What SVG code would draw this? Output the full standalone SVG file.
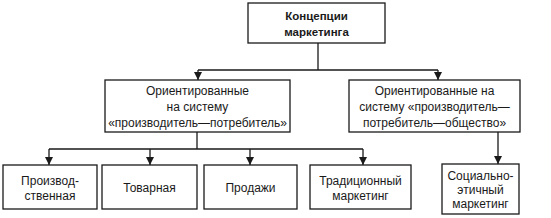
<svg xmlns="http://www.w3.org/2000/svg" width="551" height="218" viewBox="0 0 551 218">
<style>
.box{fill:#fff;stroke:#1a1a1a;stroke-width:1.3}
.ln{fill:none;stroke:#1a1a1a;stroke-width:1.3}
text{font-family:"Liberation Sans",Arial,sans-serif;font-size:12px;fill:#1a1a1a;text-anchor:middle}
.b{font-weight:bold;font-size:11.5px}
</style>
<defs>
<marker id="ar" viewBox="0 0 8 12" refX="8" refY="4" markerWidth="8" markerHeight="12" markerUnits="userSpaceOnUse" orient="auto">
<path d="M0,0 L12,4 L0,8 Z" fill="#1a1a1a" transform="scale(0.67,1)"/>
</marker>
</defs>
<g id="connectors">
<path class="ln" d="M318,43 V70 M198,70 H438"/>
<path class="ln" d="M198,70 V80" marker-end="url(#ar)"/>
<path class="ln" d="M438,70 V80" marker-end="url(#ar)"/>
<path class="ln" d="M197,132 V149 M49,149 H363"/>
<path class="ln" d="M49,149 V165" marker-end="url(#ar)"/>
<path class="ln" d="M150,149 V165" marker-end="url(#ar)"/>
<path class="ln" d="M250,149 V165" marker-end="url(#ar)"/>
<path class="ln" d="M363,149 V165" marker-end="url(#ar)"/>
<path class="ln" d="M498,132 V164" marker-end="url(#ar)"/>
</g>
<g id="n0">
<rect class="box" x="248" y="3" width="137" height="40"/>
<text class="b" x="316.5" y="20">Концепции</text>
<text class="b" x="316.5" y="36">маркетинга</text>
</g>
<g id="n1">
<rect class="box" x="105" y="80" width="185" height="52"/>
<text x="197.5" y="95">Ориентированные</text>
<text x="197.5" y="111">на систему</text>
<text x="197.5" y="127">«производитель—потребитель»</text>
</g>
<g id="n2">
<rect class="box" x="349" y="80" width="171" height="52"/>
<text x="434.5" y="95">Ориентированные на</text>
<text x="434.5" y="111">систему «производитель—</text>
<text x="434.5" y="127">потребитель—общество»</text>
</g>
<g id="n3">
<rect class="box" x="3" y="165" width="94" height="44"/>
<text x="50" y="185">Производ-</text>
<text x="50" y="200">ственная</text>
</g>
<g id="n4">
<rect class="box" x="102" y="165" width="95" height="44"/>
<text x="149.5" y="192">Товарная</text>
</g>
<g id="n5">
<rect class="box" x="204" y="165" width="93" height="44"/>
<text x="250.5" y="192">Продажи</text>
</g>
<g id="n6">
<rect class="box" x="310" y="165" width="101" height="44"/>
<text x="360.5" y="185">Традиционный</text>
<text x="360.5" y="200">маркетинг</text>
</g>
<g id="n7">
<rect class="box" x="442" y="164" width="77" height="50"/>
<text x="480.5" y="180">Социально-</text>
<text x="480.5" y="194">этичный</text>
<text x="480.5" y="208">маркетинг</text>
</g>
</svg>
